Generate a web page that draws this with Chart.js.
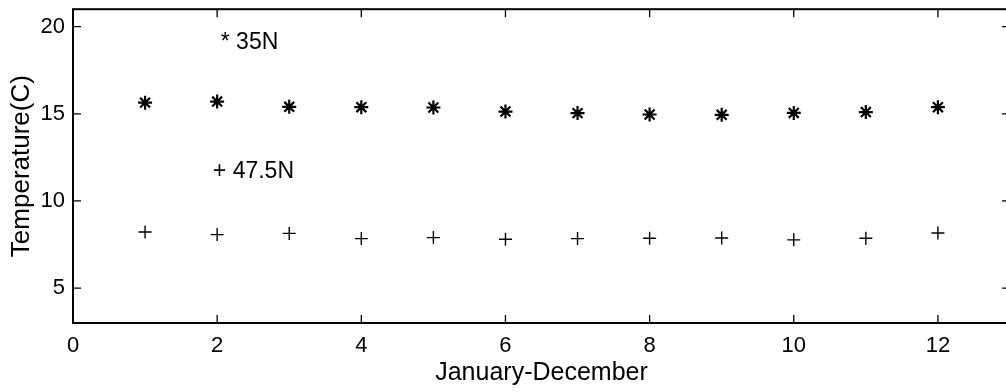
<!DOCTYPE html>
<html>
<head>
<meta charset="utf-8">
<script src="https://cdn.jsdelivr.net/npm/chart.js@4/dist/chart.umd.min.js"></script>
<style>
html,body{margin:0;padding:0;background:#fff;overflow:hidden;}
#wrap{width:1022px;height:392px;}
</style>
</head>
<body>
<div id="wrap"><canvas id="c" width="1022" height="392"></canvas></div>
<script>
const months = [1,2,3,4,5,6,7,8,9,10,11,12];
const temp35N = [15.64,15.7,15.4,15.38,15.36,15.13,15.04,14.96,14.94,15.05,15.1,15.38];
const temp475N = [8.22,8.07,8.14,7.84,7.9,7.8,7.84,7.86,7.88,7.77,7.86,8.16];
const xTicks = [0,2,4,6,8,10,12];
const yTicks = [5,10,15,20];
const xTitle = 'January-December';
const yTitle = 'Temperature(C)';
const notes = [
  {text:'* 35N', x:2.05, y:19.1},
  {text:'+ 47.5N', x:1.94, y:11.68}
];

const FONT = "'Liberation Sans', Arial, Helvetica, sans-serif";

const frameTicks = {
  id:'frameTicks',
  afterDraw(chart){
    const {ctx, chartArea:a, scales:{x,y}} = chart;
    ctx.save();
    ctx.strokeStyle = '#000';
    ctx.lineWidth = 2;
    ctx.strokeRect(a.left, a.top, a.right-a.left, a.bottom-a.top);
    ctx.lineWidth = 1.3;
    const L = 8;
    ctx.beginPath();
    xTicks.forEach(v=>{
      const px = x.getPixelForValue(v);
      ctx.moveTo(px, a.bottom); ctx.lineTo(px, a.bottom-L);
      ctx.moveTo(px, a.top); ctx.lineTo(px, a.top+L);
    });
    yTicks.forEach(v=>{
      const py = y.getPixelForValue(v);
      ctx.moveTo(a.left, py); ctx.lineTo(a.left+L, py);
      ctx.moveTo(a.right, py); ctx.lineTo(a.right-L, py);
    });
    ctx.stroke();
    ctx.fillStyle = '#000';
    ctx.font = '23px ' + FONT;
    ctx.textBaseline = 'middle';
    ctx.textAlign = 'left';
    notes.forEach(n=>{
      ctx.fillText(n.text, x.getPixelForValue(n.x), y.getPixelForValue(n.y));
    });
    ctx.restore();
  }
};

new Chart(document.getElementById('c'), {
  type:'scatter',
  data:{
    datasets:[
      {label:'35N', data: months.map((m,i)=>({x:m,y:temp35N[i]})), pointStyle:'star', radius:7, borderColor:'#000', borderWidth:2.2, backgroundColor:'#000'},
      {label:'47.5N', data: months.map((m,i)=>({x:m,y:temp475N[i]})), pointStyle:'cross', radius:6.5, borderColor:'#000', borderWidth:1.4}
    ]
  },
  options:{
    responsive:false,
    animation:false,
    events:[],
    layout:{padding:{top:7,right:12,left:0,bottom:0}},
    plugins:{legend:{display:false},tooltip:{enabled:false}},
    scales:{
      x:{
        type:'linear', min:0, max:13,
        afterBuildTicks(s){ s.ticks = xTicks.map(v=>({value:v})); },
        afterFit(s){ s.height = 69; s.paddingLeft = 0; s.paddingRight = 0; },
        grid:{display:false, drawTicks:false},
        border:{display:false},
        ticks:{color:'#000', font:{size:22, family:FONT}, padding:10, maxRotation:0, autoSkip:false},
        title:{display:true, text:xTitle, color:'#000', font:{size:25, family:FONT}, padding:{top:0,bottom:4}}
      },
      y:{
        type:'linear', min:3, max:21,
        afterBuildTicks(s){ s.ticks = yTicks.map(v=>({value:v})); },
        afterFit(s){ s.width = 73; s.paddingTop = 0; s.paddingBottom = 0; },
        grid:{display:false, drawTicks:false},
        border:{display:false},
        ticks:{color:'#000', font:{size:22, family:FONT}, padding:8},
        title:{display:true, text:yTitle, color:'#000', font:{size:26, family:FONT}, padding:{top:6,bottom:0}}
      }
    }
  },
  plugins:[frameTicks]
});
</script>
</body>
</html>
